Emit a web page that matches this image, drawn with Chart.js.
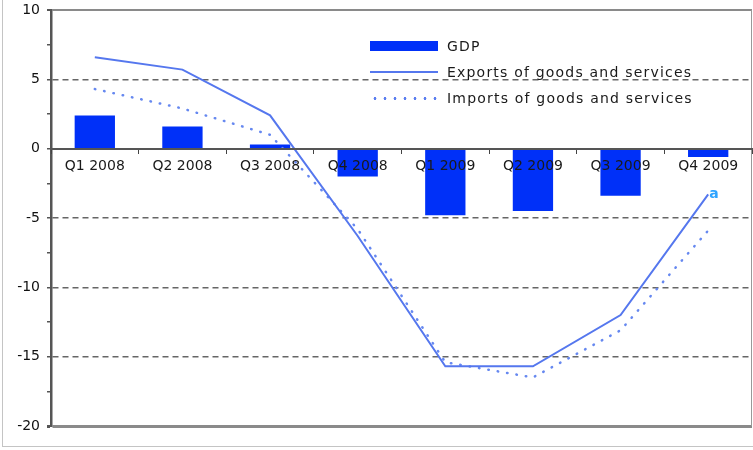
<!DOCTYPE html>
<html>
<head>
<meta charset="utf-8">
<script src="https://cdn.jsdelivr.net/npm/chart.js@4"></script>
<style>
  html, body { margin: 0; padding: 0; background: #fff; }
  #wrap { position: relative; width: 753px; height: 450px; overflow: hidden; }
  #frame { position: absolute; left: 2px; top: -2px; width: 760px; height: 447px; border: 1px solid #c4c4c4; }
  #legend { position: absolute; left: 370px; top: 33px; font: 14px "DejaVu Sans", sans-serif; letter-spacing: 1.2px; color: #1a1a1a; }
  #legend div { height: 26px; display: flex; align-items: center; }
  #legend .sw { width: 68px; margin-right: 9px; }
  .bar { height: 10px; background: #0030f8; }
  .solid { border-top: 2px solid #5577ee; }
  .dot { height: 3px; background: radial-gradient(circle, #5b7ef0 1.3px, transparent 1.6px) 0 0 / 10px 3px repeat-x; }
</style>
</head>
<body>
<div id="wrap">
  <div id="frame"></div>
  <canvas id="chart" width="753" height="450"></canvas>
  <div id="legend">
    <div><span class="sw bar"></span>GDP</div>
    <div><span class="sw solid"></span>Exports of goods and services</div>
    <div><span class="sw dot"></span>Imports of goods and services</div>
  </div>
</div>
<script>
const categories = ['Q1 2008', 'Q2 2008', 'Q3 2008', 'Q4 2008', 'Q1 2009', 'Q2 2009', 'Q3 2009', 'Q4 2009'];
const gdp = [2.4, 1.6, 0.3, -2.0, -4.8, -4.5, -3.4, -0.6];
const exportsGS = [6.6, 5.7, 2.4, -6.3, -15.7, -15.7, -12.0, -3.3];
const importsGS = [4.3, 2.9, 1.0, -5.8, -15.4, -16.5, -13.1, -5.9];
const yTicks = [10, 5, 0, -5, -10, -15, -20];

// small "a" note next to the last export point, plus the right frame edge
const extras = {
    id: 'extras',
    afterDatasetsDraw(chart) {
        const { ctx, chartArea } = chart;
        const pt = chart.getDatasetMeta(1).data[7];
        ctx.save();
        ctx.fillStyle = '#2fa4ff';
        ctx.font = 'bold 14px "DejaVu Sans", sans-serif';
        ctx.textBaseline = 'middle';
        ctx.fillText('a', pt.x + 1, pt.y);
        ctx.strokeStyle = '#999';
        ctx.lineWidth = 1;
        ctx.beginPath();
        ctx.moveTo(chartArea.right - 0.5, chartArea.top);
        ctx.lineTo(chartArea.right - 0.5, chartArea.bottom);
        ctx.stroke();
        ctx.restore();
    }
};

new Chart(document.getElementById('chart'), {
    type: 'bar',
    data: {
        labels: categories,
        datasets: [
            { label: 'GDP', data: gdp, backgroundColor: '#0030f8', barPercentage: 0.46, categoryPercentage: 1, order: 3 },
            { type: 'line', label: 'Exports of goods and services', data: exportsGS, borderColor: '#5577ee', borderWidth: 2, pointRadius: 0, tension: 0, order: 1 },
            { type: 'line', label: 'Imports of goods and services', data: importsGS, borderColor: '#6688f0', borderWidth: 2.5, borderDash: [0.5, 9], borderCapStyle: 'round', pointRadius: 0, tension: 0, order: 2 }
        ]
    },
    options: {
        responsive: false,
        animation: false,
        layout: { padding: { top: 10, bottom: 24, right: 1, left: 0 } },
        plugins: { legend: { display: false }, tooltip: { enabled: false } },
        scales: {
            x: {
                position: { y: 0 },
                grid: { z: 1, drawOnChartArea: false, drawTicks: true, tickLength: 4, tickColor: '#444', offset: true },
                border: { z: 1, color: '#555', width: 2 },
                ticks: { z: 1, color: '#1a1a1a', padding: 5, maxRotation: 0, autoSkip: false, font: { family: '"DejaVu Sans", sans-serif', size: 14 } }
            },
            y: {
                min: -20,
                max: 10,
                afterFit: s => { s.width = 51; s.paddingTop = 0; s.paddingBottom = 0; },
                afterBuildTicks: s => {
                    const t = [];
                    for (let v = 10; v >= -20; v -= 2.5) t.push({ value: v });
                    s.ticks = t;
                },
                grid: {
                    tickLength: 4,
                    tickColor: '#555',
                    color: c => {
                        const v = c.tick.value;
                        if (!yTicks.includes(v) || v === 0) return 'rgba(0,0,0,0)';
                        if (v === 10 || v === -20) return '#8a8a8a';
                        return '#666';
                    },
                    lineWidth: c => (c.tick.value === -20 ? 3 : (c.tick.value === 10 ? 2 : 1.5))
                },
                border: {
                    color: '#555',
                    width: 2.5,
                    dash: c => ((c.tick && (c.tick.value === 10 || c.tick.value === -20)) ? [] : [6, 4])
                },
                ticks: {
                    color: '#111',
                    padding: 7,
                    font: { family: '"DejaVu Sans", sans-serif', size: 14 },
                    callback: v => (yTicks.includes(v) ? String(v) : '')
                }
            }
        }
    },
    plugins: [extras]
});
</script>
</body>
</html>
